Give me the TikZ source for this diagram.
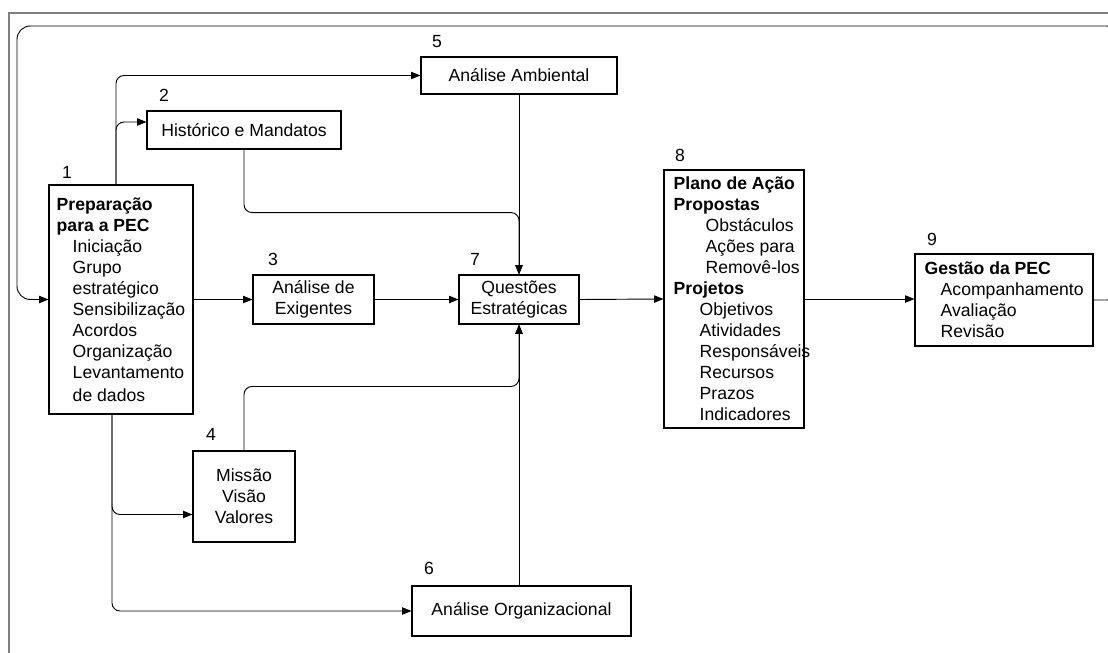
\documentclass[tikz,border=0pt]{standalone}
\usepackage{fontspec}
\setmainfont{Liberation Sans}
\usetikzlibrary{arrows.meta}

\begin{document}
\begin{tikzpicture}[x=0.75pt, y=-0.75pt,
	font=\fontsize{13.2}{15.75}\selectfont,
	box/.style={draw, line width=0.8pt, inner sep=0pt, align=center},
	txt/.style={inner sep=0pt, align=left, anchor=west},
	num/.style={inner sep=0pt},
	flow/.style={-{Triangle[length=7pt,width=5.5pt]}, line width=0.7pt, rounded corners=6pt}]
	\clip (0,0) rectangle (1108,653);
	\draw[gray, line width=1.1pt] (9,670) -- (9,13) -- (1130,13);

	% caixas
	\node[box, minimum width=108pt, minimum height=171.75pt] (b1) at (121,299.5) {};
	\node[box, minimum width=145.5pt, minimum height=28.5pt] (b2) at (244,130) {Histórico e Mandatos};
	\node[box, minimum width=90.75pt, minimum height=36.75pt] (b3) at (313.5,299.5) {Análise de\\Exigentes};
	\node[box, minimum width=76.5pt, minimum height=68.25pt] (b4) at (244,496.5) {Missão\\Visão\\Valores};
	\node[box, minimum width=147pt, minimum height=27.75pt] (b5) at (519,75.5) {Análise Ambiental};
	\node[box, minimum width=164.25pt, minimum height=37.5pt] (b6) at (521.5,611) {Análise Organizacional};
	\node[box, minimum width=90pt, minimum height=36.75pt] (b7) at (519,299.5) {Questões\\Estratégicas};
	\node[box, minimum width=105pt, minimum height=193.5pt] (b8) at (734,299) {};
	\node[box, minimum width=133.5pt, minimum height=69pt] (b9) at (1004,300) {};

	\node[txt] (t1) at ([xshift=6pt]b1.west) {\textbf{Preparação}\\\textbf{para a PEC}\\
		\hspace*{12pt}Iniciação\\\hspace*{12pt}Grupo\\\hspace*{12pt}estratégico\\
		\hspace*{12pt}Sensibilização\\\hspace*{12pt}Acordos\\\hspace*{12pt}Organização\\
		\hspace*{12pt}Levantamento\\[1.5pt]\hspace*{12pt}de dados};
	\node[txt] (t8) at ([xshift=7.5pt]b8.west) {\textbf{Plano de Ação}\\\textbf{Propostas}\\
		\hspace*{24pt}Obstáculos\\\hspace*{24pt}Ações para\\\hspace*{24pt}Removê-los\\
		\textbf{Projetos}\\\hspace*{19.5pt}Objetivos\\\hspace*{19.5pt}Atividades\\
		\hspace*{19.5pt}Responsáveis\\\hspace*{19.5pt}Recursos\\\hspace*{19.5pt}Prazos\\
		\hspace*{19.5pt}Indicadores};
	\node[txt] (t9) at ([xshift=7.5pt]b9.west) {\textbf{Gestão da PEC}\\
		\hspace*{12pt}Acompanhamento\\\hspace*{12pt}Avaliação\\\hspace*{12pt}Revisão};

	% numeros
	\node[num] (n1) at (67,172) {1};
	\node[num] (n2) at (164,95) {2};
	\node[num] (n3) at (273,259) {3};
	\node[num] (n4) at (211,434) {4};
	\node[num] (n5) at (437,42) {5};
	\node[num] (n6) at (429,568) {6};
	\node[num] (n7) at (475,259) {7};
	\node[num] (n8) at (680,155) {8};
	\node[num] (n9) at (932,239) {9};

	% ligacoes
	\draw[flow] ([xshift=-3.75pt]b1.north) |- (b5.west);
	\draw[flow] ([xshift=-3.75pt]b1.north) |- ([yshift=6pt]b2.west);
	\draw[flow] ([xshift=-6.75pt]b1.south) |- ([yshift=-13.5pt]b4.west);
	\draw[flow] ([xshift=-6.75pt]b1.south) |- (b6.west);
	\draw[flow] (b1.east) -- (b3.west);
	\draw[flow] (b3.east) -- (b7.west);
	\draw[flow] (b2.south) -- ++(0,63) -| (b7.north);
	\draw[flow] (b5.south) -- (b7.north);
	\draw[flow] (b4.north) -- ++(0,-64) -| (b7.south);
	\draw[flow] (b6.north -| b7.south) -- (b7.south);
	\draw[flow] (b7.east) -- (b8.west);
	\draw[flow] (b8.east) -- (b8.east -| b9.west);

	\coordinate (ret) at (1120,26);
	\draw[flow, rounded corners=10pt] (b9.east) -| (ret) -- (17,26) |- (b1.west);
\end{tikzpicture}
\end{document}
